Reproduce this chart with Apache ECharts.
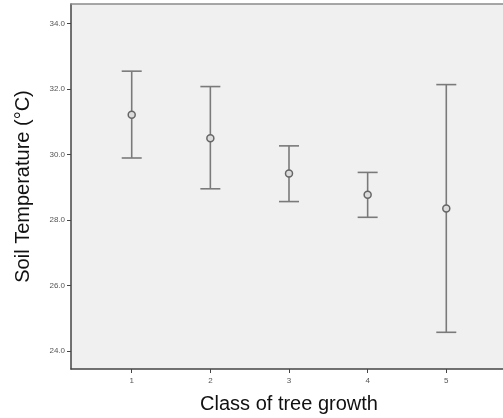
<!DOCTYPE html>
<html>
<head>
<meta charset="utf-8">
<script src="https://cdn.jsdelivr.net/npm/echarts@6/dist/echarts.min.js"></script>
<style>html,body{margin:0;padding:0;background:#fff}#c{width:503px;height:418px}</style>
</head>
<body>
<div id="c"></div>
<script>
const classes = [1, 2, 3, 4, 5];
const means = [31.21, 30.49, 29.42, 28.77, 28.35];
const upper = [32.54, 32.07, 30.26, 29.45, 32.13];
const lower = [29.89, 28.95, 28.56, 28.08, 24.57];
const yTicks = [24, 26, 28, 30, 32, 34];
const xTicks = [1, 2, 3, 4, 5];

const chart = echarts.init(document.getElementById('c'), null, {renderer: 'canvas'});
const errData = classes.map((c, i) => [c, lower[i], upper[i]]);
const meanData = classes.map((c, i) => [c, means[i]]);

chart.setOption({
  animation: false,
  backgroundColor: '#ffffff',
  grid: {left: 71, top: 4, width: 436, height: 365, show: true, containLabel: false,
         outerBoundsMode: 'none',
         backgroundColor: '#f0f0f0', borderWidth: 0},
  xAxis: [{
    type: 'value', min: 0.228, max: 5.772,
    name: 'Class of tree growth', nameLocation: 'middle', nameGap: 25,
    nameTextStyle: {fontFamily: 'Liberation Sans, Arial', fontSize: 20, color: '#111'},
    axisLine: {show: true, lineStyle: {color: '#444', width: 1.5}},
    axisTick: {show: true, length: 4, customValues: xTicks, lineStyle: {color: '#444'}},
    axisLabel: {customValues: xTicks, fontSize: 8, color: '#555', margin: 8,
                fontFamily: 'Liberation Sans, Arial'},
    splitLine: {show: false}
  }, {
    type: 'value', position: 'top', min: 0.228, max: 5.772,
    axisLine: {show: true, lineStyle: {color: '#8a8a8a', width: 1.5}},
    axisTick: {show: false}, axisLabel: {show: false}, splitLine: {show: false}
  }],
  yAxis: {
    type: 'value', min: 23.45, max: 34.59,
    name: 'Soil Temperature (°C)', nameLocation: 'middle', nameGap: 38,
    nameTextStyle: {fontFamily: 'Liberation Sans, Arial', fontSize: 20, color: '#111'},
    axisLine: {show: true, lineStyle: {color: '#444', width: 1.5}},
    axisTick: {show: true, length: 4, customValues: yTicks, lineStyle: {color: '#444'}},
    axisLabel: {customValues: yTicks, fontSize: 8, color: '#555', margin: 6,
                fontFamily: 'Liberation Sans, Arial',
                formatter: v => v.toFixed(1)},
    splitLine: {show: false}
  },
  series: [
    {
      type: 'custom',
      data: errData,
      renderItem: function (params, api) {
        const x = api.value(0);
        const lo = api.coord([x, api.value(1)]);
        const hi = api.coord([x, api.value(2)]);
        const hw = 10;
        const style = {stroke: '#7a7a7a', lineWidth: 1.6};
        return {
          type: 'group',
          children: [
            {type: 'line', shape: {x1: lo[0], y1: lo[1], x2: hi[0], y2: hi[1]}, style: style},
            {type: 'line', shape: {x1: hi[0] - hw, y1: hi[1], x2: hi[0] + hw, y2: hi[1]}, style: style},
            {type: 'line', shape: {x1: lo[0] - hw, y1: lo[1], x2: lo[0] + hw, y2: lo[1]}, style: style}
          ]
        };
      },
      z: 2
    },
    {
      type: 'scatter',
      data: meanData,
      symbol: 'circle',
      symbolSize: 7,
      itemStyle: {color: '#dcdcdc', borderColor: '#666', borderWidth: 1.5, opacity: 1},
      z: 3
    }
  ]
});
</script>
</body>
</html>
